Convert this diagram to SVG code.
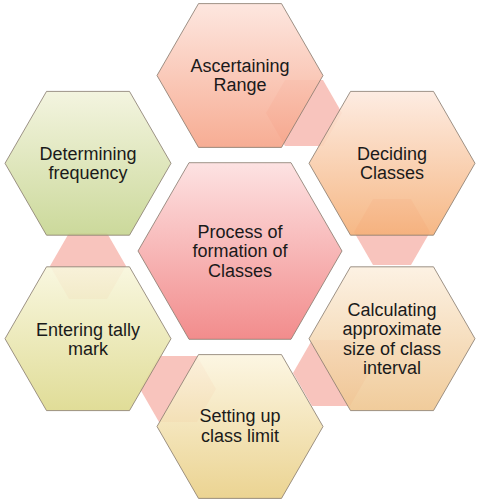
<svg xmlns="http://www.w3.org/2000/svg" width="481" height="500" viewBox="0 0 481 500">
<style>
.hex{stroke:#85786c;stroke-width:0.8;fill-opacity:0.9}
.conn{fill:#f8c4bd;stroke:none}
.t{font-family:"Liberation Sans",Arial,sans-serif;font-size:18px;fill:#1a1a1a;text-anchor:middle}
</style>
<defs>
<linearGradient id="gA" x1="0" y1="0" x2="0" y2="1"><stop offset="0" stop-color="#fde4dc"/><stop offset="1" stop-color="#f6a488"/></linearGradient>
<linearGradient id="gD" x1="0" y1="0" x2="0" y2="1"><stop offset="0" stop-color="#fdeadf"/><stop offset="1" stop-color="#f5b078"/></linearGradient>
<linearGradient id="gC" x1="0" y1="0" x2="0" y2="1"><stop offset="0" stop-color="#fcf0e0"/><stop offset="1" stop-color="#efc690"/></linearGradient>
<linearGradient id="gS" x1="0" y1="0" x2="0" y2="1"><stop offset="0" stop-color="#fcf5e0"/><stop offset="1" stop-color="#e9cf86"/></linearGradient>
<linearGradient id="gE" x1="0" y1="0" x2="0" y2="1"><stop offset="0" stop-color="#f8f6dc"/><stop offset="1" stop-color="#ddd98c"/></linearGradient>
<linearGradient id="gF" x1="0" y1="0" x2="0" y2="1"><stop offset="0" stop-color="#f2f3dc"/><stop offset="1" stop-color="#c6d590"/></linearGradient>
<linearGradient id="gM" x1="0" y1="0" x2="0" y2="1"><stop offset="0" stop-color="#fde2e2"/><stop offset="1" stop-color="#f28c8c"/></linearGradient>
</defs>
<g id="connectors">
<polygon class="conn" points="266,113 285,80 323,80 342,113 323,146 285,146"/>
<polygon class="conn" points="354,232 373,199 411,199 430,232 411,265 373,265"/>
<polygon class="conn" points="293,373 312,340 350,340 369,373 350,406 312,406"/>
<polygon class="conn" points="140,389 159,356 197,356 216,389 197,422 159,422"/>
<polygon class="conn" points="50,266 69,233 107,233 126,266 107,299 69,299"/>
</g>
<g id="n1">
<polygon class="hex" fill="url(#gA)" points="157,75.5 198.5,3.6 281.5,3.6 323,75.5 281.5,147.4 198.5,147.4"/>
<text class="t" x="240" y="71.5">Ascertaining</text><text class="t" x="240" y="91">Range</text>
</g>
<g id="n2">
<polygon class="hex" fill="url(#gD)" points="309,163.3 350.5,91.4 433.5,91.4 475,163.3 433.5,235.2 350.5,235.2"/>
<text class="t" x="392" y="159.5">Deciding</text><text class="t" x="392" y="179">Classes</text>
</g>
<g id="n3">
<polygon class="hex" fill="url(#gC)" points="309,338.7 350.5,266.8 433.5,266.8 475,338.7 433.5,410.6 350.5,410.6"/>
<text class="t" x="392" y="315.5">Calculating</text><text class="t" x="392" y="335">approximate</text><text class="t" x="392" y="354.5">size of class</text><text class="t" x="392" y="374">interval</text>
</g>
<g id="n4">
<polygon class="hex" fill="url(#gS)" points="157,426.5 198.5,354.6 281.5,354.6 323,426.5 281.5,498.4 198.5,498.4"/>
<text class="t" x="240" y="422">Setting up</text><text class="t" x="240" y="441.5">class limit</text>
</g>
<g id="n5">
<polygon class="hex" fill="url(#gE)" points="5,338.7 46.5,266.8 129.5,266.8 171,338.7 129.5,410.6 46.5,410.6"/>
<text class="t" x="88" y="335.5">Entering tally</text><text class="t" x="88" y="355">mark</text>
</g>
<g id="n6">
<polygon class="hex" fill="url(#gF)" points="5,163.3 46.5,91.4 129.5,91.4 171,163.3 129.5,235.2 46.5,235.2"/>
<text class="t" x="88" y="159.5">Determining</text><text class="t" x="88" y="179">frequency</text>
</g>
<g id="center">
<polygon class="hex" fill="url(#gM)" style="fill-opacity:1" points="138,251 189,162.7 291,162.7 342,251 291,339.3 189,339.3"/>
<text class="t" x="240" y="237.5">Process of</text><text class="t" x="240" y="257">formation of</text><text class="t" x="240" y="276.5">Classes</text>
</g>
</svg>
